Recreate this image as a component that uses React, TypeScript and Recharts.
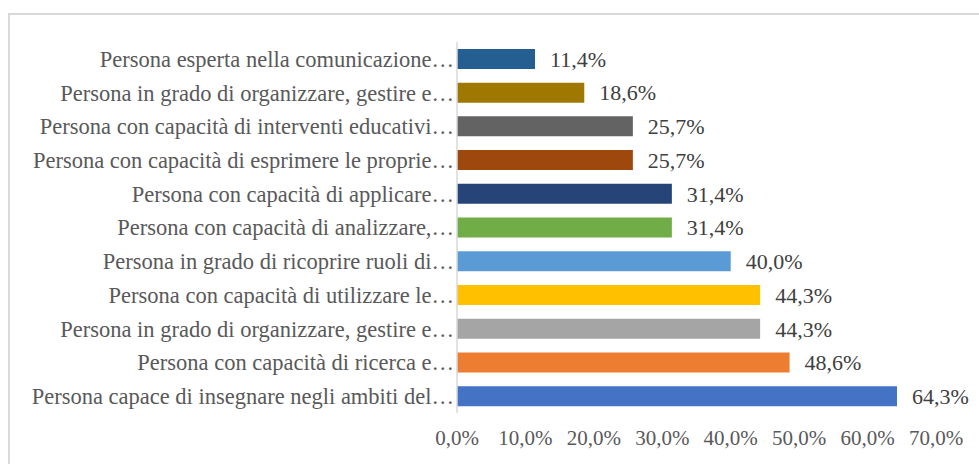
import { BarChart, Bar, XAxis, YAxis, Cell, LabelList } from "recharts"

const categories = [
    "Persona esperta nella comunicazione…",
    "Persona in grado di organizzare, gestire e…",
    "Persona con capacità di interventi educativi…",
    "Persona con capacità di esprimere le proprie…",
    "Persona con capacità di applicare…",
    "Persona con capacità di analizzare,…",
    "Persona in grado di ricoprire ruoli di…",
    "Persona con capacità di utilizzare le…",
    "Persona in grado di organizzare, gestire e…",
    "Persona con capacità di ricerca e…",
    "Persona capace di insegnare negli ambiti del…",
]

const values = [11.4, 18.6, 25.7, 25.7, 31.4, 31.4, 40.0, 44.3, 44.3, 48.6, 64.3]

const colors = [
    "#255E91",
    "#9E7800",
    "#636363",
    "#9E480E",
    "#264478",
    "#70AD47",
    "#5B9BD5",
    "#FFC000",
    "#A5A5A5",
    "#ED7D31",
    "#4472C4",
]

const xTicks = [0, 10, 20, 30, 40, 50, 60, 70]

const data = categories.map((name, i) => ({ name, value: values[i] }))

const pct = (v: number) => `${v.toFixed(1).replace(".", ",")}%`

const font = "'Liberation Serif', 'Times New Roman', serif"

export default function App() {
    return (
        <div
            style={{
                position: "fixed",
                left: 0,
                top: 0,
                width: 979,
                height: 464,
                background: "#fff",
                overflow: "hidden",
            }}
        >
            <div
                style={{
                    position: "absolute",
                    left: 8,
                    top: 13,
                    width: 1000,
                    height: 500,
                    border: "2px solid #d9d9d9",
                }}
            />
            <div style={{ position: "absolute", left: 0, top: 0 }}>
                <BarChart
                    width={979}
                    height={464}
                    data={data}
                    layout="vertical"
                    margin={{ top: 42, right: 43, left: 0, bottom: 0 }}
                    barCategoryGap="20.5%"
                >
                    <XAxis
                        type="number"
                        domain={[0, 70]}
                        ticks={xTicks}
                        tickFormatter={pct}
                        axisLine={false}
                        tickLine={false}
                        tickSize={0}
                        tickMargin={17}
                        height={51}
                        interval={0}
                        tick={{ fill: "#595959", fontSize: 21, fontFamily: font }}
                    />
                    <YAxis
                        type="category"
                        dataKey="name"
                        width={457}
                        axisLine={{ stroke: "#d9d9d9", strokeWidth: 1.5 }}
                        tickLine={false}
                        tickSize={0}
                        tickMargin={3}
                        interval={0}
                        tick={{ fill: "#595959", fontSize: 22.5, fontFamily: font }}
                    />
                    <Bar dataKey="value" isAnimationActive={false}>
                        {data.map((d, i) => (
                            <Cell key={d.name + i} fill={colors[i]} />
                        ))}
                        <LabelList
                            dataKey="value"
                            position="right"
                            offset={15}
                            formatter={(v: any) => pct(Number(v))}
                            style={{ fill: "#404040", fontSize: 22, fontFamily: font }}
                        />
                    </Bar>
                </BarChart>
            </div>
        </div>
    )
}
